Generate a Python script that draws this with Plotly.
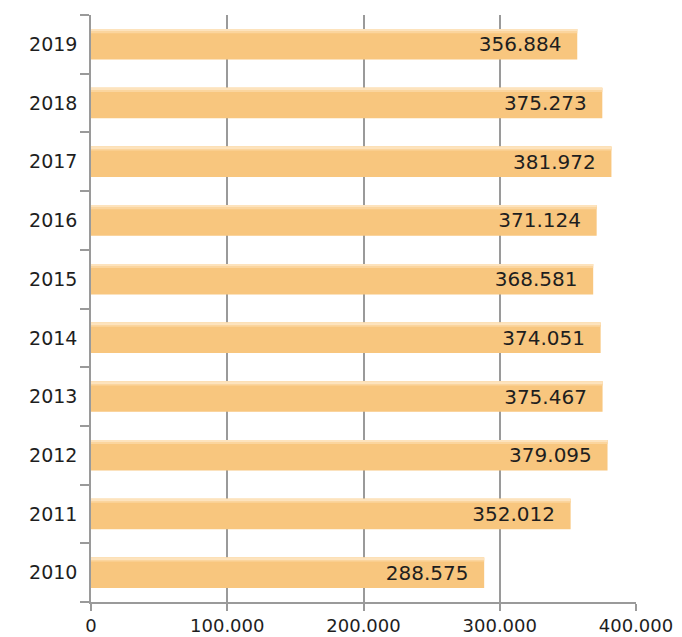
import plotly.graph_objects as go

years = ["2010", "2011", "2012", "2013", "2014", "2015", "2016", "2017", "2018", "2019"]
values = [288575, 352012, 379095, 375467, 374051, 368581, 371124, 381972, 375273, 356884]
x_ticks = [0, 100000, 200000, 300000, 400000]

fig = go.Figure()
fig.add_trace(
    go.Bar(
        y=years,
        x=values,
        orientation="h",
        width=0.52,
        offset=-0.26,
        marker=dict(color="#f8c67e", line=dict(width=0)),
        texttemplate="%{x:,.0f}\u00a0\u00a0",
        textposition="inside",
        insidetextanchor="end",
        textfont=dict(family="DejaVu Sans", size=20, color="#1e1e1e"),
        cliponaxis=False,
        hoverinfo="skip",
    )
)
# lighter top bands to mimic the vertical gradient of the bars
for off, w, col in [(0.19, 0.07, "#fbd59e"), (0.23, 0.03, "#fde3bd")]:
    fig.add_trace(
        go.Bar(
            y=years,
            x=values,
            orientation="h",
            width=w,
            offset=off,
            marker=dict(color=col, line=dict(width=0)),
            hoverinfo="skip",
        )
    )

fig.update_layout(
    width=682,
    height=637,
    barmode="overlay",
    margin=dict(l=91, r=46, t=15, b=35, autoexpand=False),
    plot_bgcolor="white",
    paper_bgcolor="white",
    separators=",.",
    showlegend=False,
    font=dict(family="DejaVu Sans", size=19, color="#1e1e1e"),
)
fig.update_xaxes(
    range=[0, 400000],
    tickvals=x_ticks,
    tickformat=",.0f",
    showgrid=True,
    gridcolor="#9a9a9a",
    gridwidth=1.5,
    showline=True,
    linecolor="#9a9a9a",
    linewidth=1.5,
    ticks="outside",
    ticklen=7,
    tickcolor="#9a9a9a",
    tickwidth=1.5,
    zeroline=False,
    automargin=False,
    tickfont=dict(size=18),
)
fig.update_yaxes(
    type="category",
    categoryorder="array",
    categoryarray=years,
    showline=True,
    linecolor="#9a9a9a",
    linewidth=1.5,
    ticks="outside",
    tickson="boundaries",
    ticklen=9,
    tickcolor="#9a9a9a",
    tickwidth=1.5,
    showgrid=False,
    automargin=False,
    ticklabelstandoff=8,
    tickfont=dict(size=19),
)

fig.write_html(
    "out.html",
    config={"displayModeBar": False},
    post_script="document.body.style.margin='0';document.body.style.overflow='hidden';",
)
